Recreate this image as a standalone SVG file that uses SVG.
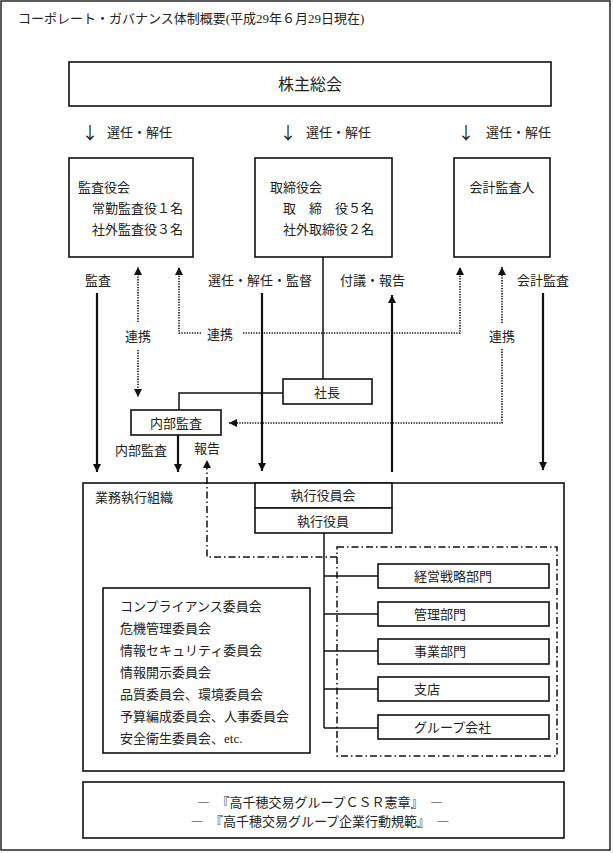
<svg xmlns="http://www.w3.org/2000/svg" width="613" height="853" viewBox="0 0 613 853">
<style>
text{font-family:"Liberation Serif","Noto Sans CJK JP",serif;font-size:13px;fill:#222;dominant-baseline:central}
.arr{font-family:"Noto Sans CJK JP","DejaVu Sans",sans-serif;font-size:17px;text-anchor:middle}
.cjk{font-family:"Noto Sans CJK JP",sans-serif}
.box{fill:#fff;stroke:#111;stroke-width:1.6}
.frame{fill:none;stroke:#111;stroke-width:1.6}
.ln{fill:none;stroke:#111;stroke-width:1.5}
.th{fill:none;stroke:#111;stroke-width:2.2}
.dot{fill:none;stroke:#111;stroke-width:1.6;stroke-dasharray:1.3 1.3}
.dd{fill:none;stroke:#111;stroke-width:1.5;stroke-dasharray:7 3 1.5 3}
.m{text-anchor:middle}
</style>
<defs>
<marker id="ah" viewBox="0 0 10 10" refX="10" refY="5" markerWidth="11" markerHeight="8" markerUnits="userSpaceOnUse" orient="auto">
<path d="M0,0 L10,5 L0,10 z" fill="#111"/>
</marker>
</defs>
<rect x="1" y="1" width="609" height="849" fill="#fff" stroke="#333" stroke-width="1.6"/>
<text x="18" y="18">コーポレート・ガバナンス体制概要(平成29年６月29日現在)</text>

<g id="shareholders">
<rect class="box" x="69" y="62" width="482" height="44"/>
<text class="m" x="310" y="84" style="font-size:16px">株主総会</text>
</g>

<g id="appoint-labels">
<text class="arr" x="90" y="131">↓</text>
<text x="107" y="132">選任・解任</text>
<text class="arr" x="288" y="131">↓</text>
<text x="306" y="132">選任・解任</text>
<text class="arr" x="466" y="131">↓</text>
<text x="486" y="132">選任・解任</text>
</g>

<g id="auditors">
<rect class="box" x="69" y="158" width="124" height="99"/>
<text x="78" y="187">監査役会</text>
<text x="92" y="208">常勤監査役１名</text>
<text x="92" y="229">社外監査役３名</text>
</g>

<g id="board">
<rect class="box" x="255" y="158" width="137" height="99"/>
<text x="270" y="187">取締役会</text>
<text x="283" y="208">取　締　役５名</text>
<text x="283" y="229">社外取締役２名</text>
</g>

<g id="accounting-auditor">
<rect class="box" x="454" y="158" width="96" height="99"/>
<text class="m" x="502" y="187">会計監査人</text>
</g>

<g id="president">
<rect class="box" x="283" y="379" width="89" height="25"/>
<text class="m" x="327" y="392">社長</text>
</g>

<g id="internal-audit">
<rect class="box" x="131" y="410" width="90" height="25"/>
<text class="m" x="176" y="423">内部監査</text>
</g>

<g id="business-org">
<rect class="frame" x="83" y="483" width="481" height="288"/>
<text x="95" y="497">業務執行組織</text>
</g>

<g id="exec-committee">
<rect class="box" x="255" y="483" width="137" height="25"/>
<text class="m" x="323" y="495">執行役員会</text>
</g>
<g id="exec-officers">
<rect class="box" x="255" y="508" width="137" height="25"/>
<text class="m" x="323" y="521">執行役員</text>
</g>

<g id="dept-group">
<rect class="dd" x="337" y="547" width="220" height="209"/>
</g>

<g id="connectors">
<line class="th" x1="97" y1="293" x2="97" y2="472" marker-end="url(#ah)"/>
<line class="dot" x1="138" y1="322" x2="138" y2="267" marker-end="url(#ah)"/>
<line class="dot" x1="138" y1="350" x2="138" y2="397" marker-end="url(#ah)"/>
<path class="dot" d="M201,333 H179 V267" marker-end="url(#ah)"/>
<path class="dot" d="M243,333 H460 V267" marker-end="url(#ah)"/>
<line class="th" x1="262" y1="293" x2="262" y2="471" marker-end="url(#ah)"/>
<line class="ln" x1="323" y1="257" x2="323" y2="379"/>
<line class="th" x1="392" y1="472" x2="392" y2="295" marker-end="url(#ah)"/>
<line class="dot" x1="502" y1="323" x2="502" y2="267" marker-end="url(#ah)"/>
<path class="dot" d="M502,349 V423 H229" marker-end="url(#ah)"/>
<line class="th" x1="543" y1="293" x2="543" y2="470" marker-end="url(#ah)"/>
<path class="ln" d="M283,393 H179 V410"/>
<line class="th" x1="178" y1="435" x2="178" y2="472" marker-end="url(#ah)"/>
<path class="dd" d="M337,557 H207 V460" marker-end="url(#ah)"/>
<path class="ln" d="M324,533 V728 M324,576 H378 M324,614 H378 M324,651 H378 M324,689 H378 M324,728 H378"/>
</g>

<g id="connector-labels">
<text x="85" y="280">監査</text>
<text class="m" x="138" y="336">連携</text>
<text x="207" y="334">連携</text>
<text x="208" y="280">選任・解任・監督</text>
<text x="340" y="280">付議・報告</text>
<text class="m" x="502" y="336">連携</text>
<text x="517" y="280">会計監査</text>
<text x="115" y="450">内部監査</text>
<text x="194" y="448">報告</text>
</g>

<g id="dept-strategy">
<rect class="box" x="378" y="564" width="171" height="24"/>
<text x="414" y="576">経営戦略部門</text>
</g>
<g id="dept-admin">
<rect class="box" x="378" y="602" width="171" height="24"/>
<text x="414" y="614">管理部門</text>
</g>
<g id="dept-business">
<rect class="box" x="378" y="639" width="171" height="25"/>
<text x="414" y="651">事業部門</text>
</g>
<g id="dept-branch">
<rect class="box" x="378" y="677" width="171" height="24"/>
<text x="414" y="689">支店</text>
</g>
<g id="dept-group-companies">
<rect class="box" x="378" y="715" width="171" height="24"/>
<text x="414" y="727">グループ会社</text>
</g>

<g id="committees">
<rect class="box" x="103" y="588" width="207" height="165"/>
<text x="120" y="606">コンプライアンス委員会</text>
<text x="120" y="628">危機管理委員会</text>
<text x="120" y="650">情報セキュリティ委員会</text>
<text x="120" y="672">情報開示委員会</text>
<text x="120" y="694">品質委員会、環境委員会</text>
<text x="120" y="716">予算編成委員会、人事委員会</text>
<text x="120" y="738">安全衛生委員会、etc.</text>
</g>

<g id="charter">
<rect class="box" x="83" y="782" width="481" height="56"/>
<text class="m cjk" x="320" y="801">―　『高千穂交易グループＣＳＲ憲章』　―</text>
<text class="m cjk" x="320" y="820">―　『高千穂交易グループ企業行動規範』　―</text>
</g>
</svg>
